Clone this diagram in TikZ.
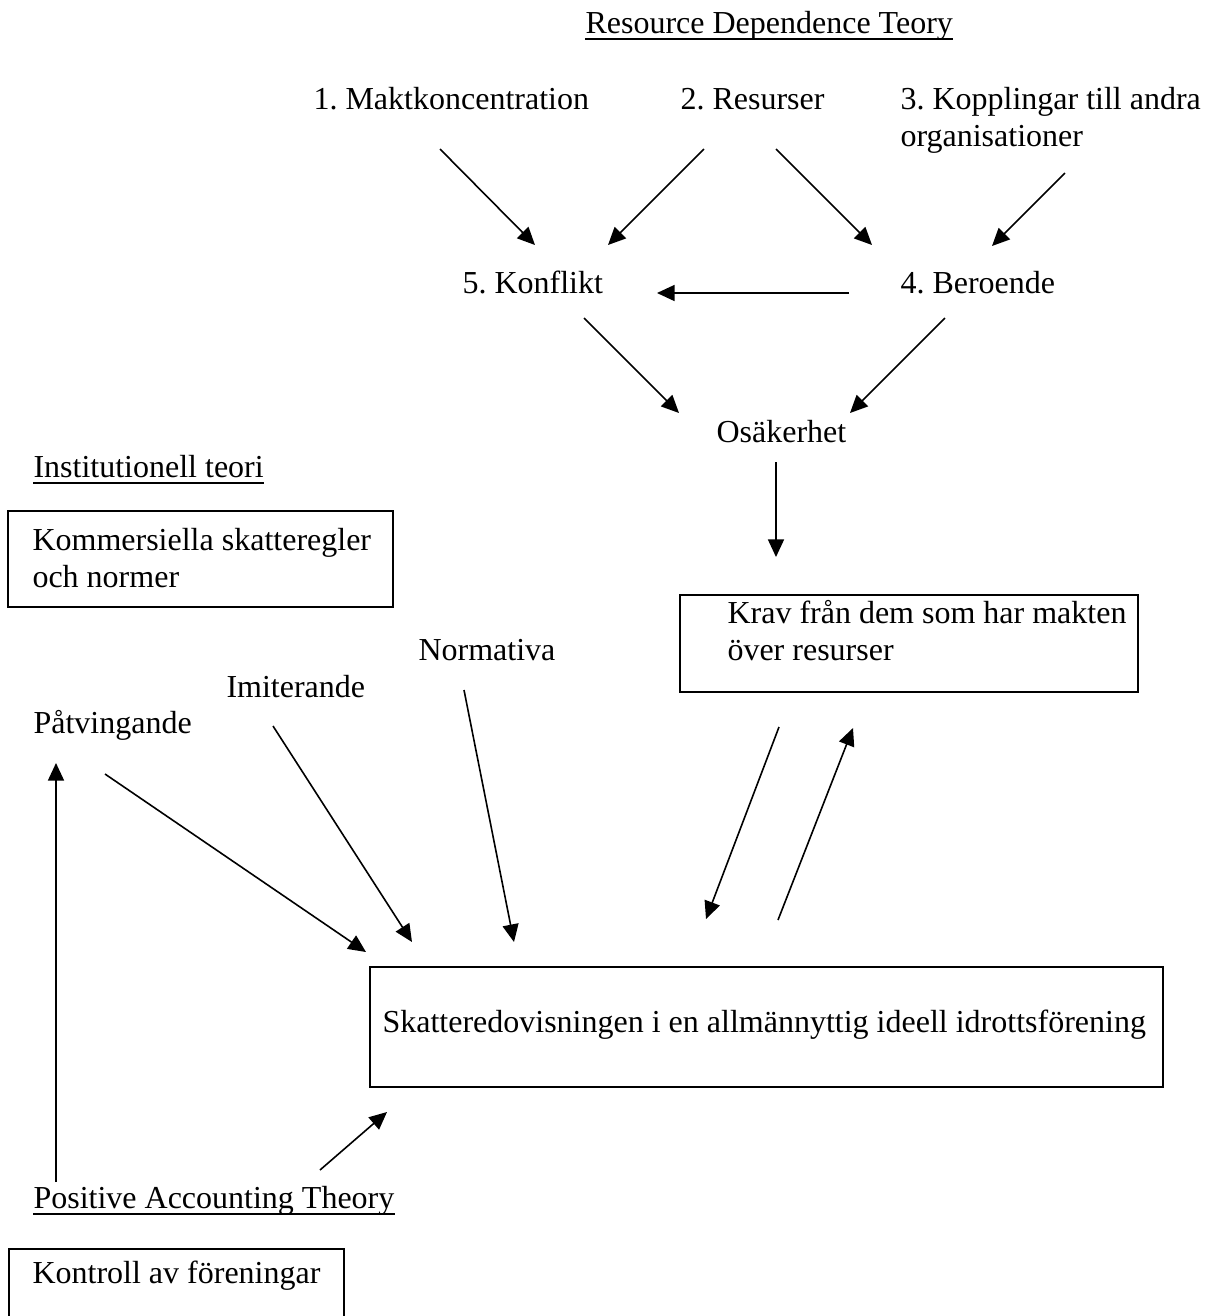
\documentclass[tikz,border=0pt]{standalone}
\usepackage{fontspec}
\setmainfont{Liberation Serif}
\usetikzlibrary{arrows.meta}
\frenchspacing
\begin{document}
\begin{tikzpicture}[x=0.375pt, y=-0.375pt,
  lbl/.style={inner sep=0pt, anchor=base west, font=\fontsize{12}{13.9}\selectfont},
  frame/.style={draw, line width=0.7pt, inner sep=0pt, anchor=north west},
  arr/.style={line width=0.6pt, -{Triangle[length=6.6pt, width=6pt]}},
  uline/.style={line width=0.7pt}]
\useasboundingbox (0,0) rectangle (1207,1316);

% --- Resource Dependence Theory block ---
\node[lbl] (rdt) at (585,33) {Resource Dependence Teory};
\draw[uline] ([yshift=-2.4pt]rdt.base west) -- ([yshift=-2.4pt]rdt.base east);

\node[lbl] (makt) at (313,109) {1. Maktkoncentration};
\node[lbl] (res) at (680,109) {2. Resurser};
\node[lbl] (kopp) at (900,109) {\begin{tabular}[t]{@{}l@{}}3. Kopplingar till andra\\organisationer\end{tabular}};
\node[lbl] (konf) at (462,293) {5. Konflikt};
\node[lbl] (ber) at (900,293) {4. Beroende};
\node[lbl] (osak) at (716,442) {Osäkerhet};

% --- Institutional theory block ---
\node[lbl] (inst) at (33,477) {Institutionell teori};
\draw[uline] ([yshift=-2.4pt]inst.base west) -- ([yshift=-2.4pt]inst.base east);
\node[frame, minimum width=385*0.375pt, minimum height=96*0.375pt] (kombox) at (7,510) {};
\node[lbl] (komm) at (32,550) {\begin{tabular}[t]{@{}l@{}}Kommersiella skatteregler\\och normer\end{tabular}};

\node[lbl] (norm) at (418,660) {Normativa};
\node[lbl] (imit) at (226,697) {Imiterande};
\node[lbl] (patv) at (33,733) {Påtvingande};

% --- Demands from resource holders ---
\node[frame, minimum width=458*0.375pt, minimum height=97*0.375pt] (kravbox) at (679,594) {};
\node[lbl] (krav) at (727,623) {\begin{tabular}[t]{@{}l@{}}Krav från dem som har makten\\över resurser\end{tabular}};

% --- Central box ---
\node[frame, minimum width=793*0.375pt, minimum height=120*0.375pt] (mainbox) at (369,966) {};
\node[lbl] (main) at (382,1032) {Skatteredovisningen i en allmännyttig ideell idrottsförening};

% --- Positive Accounting Theory block ---
\node[lbl] (pat) at (33,1208) {Positive Accounting Theory};
\draw[uline] ([yshift=-2.4pt]pat.base west) -- ([yshift=-2.4pt]pat.base east);
\node[frame, minimum width=335*0.375pt, minimum height=95*0.375pt] (kontbox) at (8,1248) {};
\node[lbl] (kont) at (32,1283) {Kontroll av föreningar};

% --- connector end points ---
\coordinate (m1) at (440,149);  \coordinate (k1) at (535,245);
\coordinate (r1) at (704,149);  \coordinate (k2) at (608,245);
\coordinate (r2) at (776,149);  \coordinate (b1) at (872,245);
\coordinate (p1) at (1065,173); \coordinate (b2) at (992,246);
\coordinate (b3) at (849,293);  \coordinate (k3) at (657,293);
\coordinate (k4) at (584,318);  \coordinate (o1) at (679,413);
\coordinate (b4) at (945,318);  \coordinate (o2) at (850,413);
\coordinate (o3) at (776,462);  \coordinate (kv1) at (776,557);
\coordinate (kv2) at (779,727); \coordinate (s1) at (706,919);
\coordinate (s2) at (778,920);  \coordinate (kv3) at (853,728);
\coordinate (pv) at (105,774);  \coordinate (s3) at (366,952);
\coordinate (im) at (273,726);  \coordinate (s4) at (412,942);
\coordinate (no) at (464,690);  \coordinate (s5) at (514,942);
\coordinate (pa1) at (56,1182); \coordinate (pv2) at (56,763);
\coordinate (pa2) at (320,1170);\coordinate (s6) at (387,1112);

% --- connectors ---
\draw[arr] (m1) -- (k1);
\draw[arr] (r1) -- (k2);
\draw[arr] (r2) -- (b1);
\draw[arr] (p1) -- (b2);
\draw[arr] (b3) -- (k3);
\draw[arr] (k4) -- (o1);
\draw[arr] (b4) -- (o2);
\draw[arr] (o3) -- (kv1);
\draw[arr] (kv2) -- (s1);
\draw[arr] (s2) -- (kv3);
\draw[arr] (pv) -- (s3);
\draw[arr] (im) -- (s4);
\draw[arr] (no) -- (s5);
\draw[arr] (pa1) -- (pv2);
\draw[arr] (pa2) -- (s6);
\end{tikzpicture}
\end{document}
